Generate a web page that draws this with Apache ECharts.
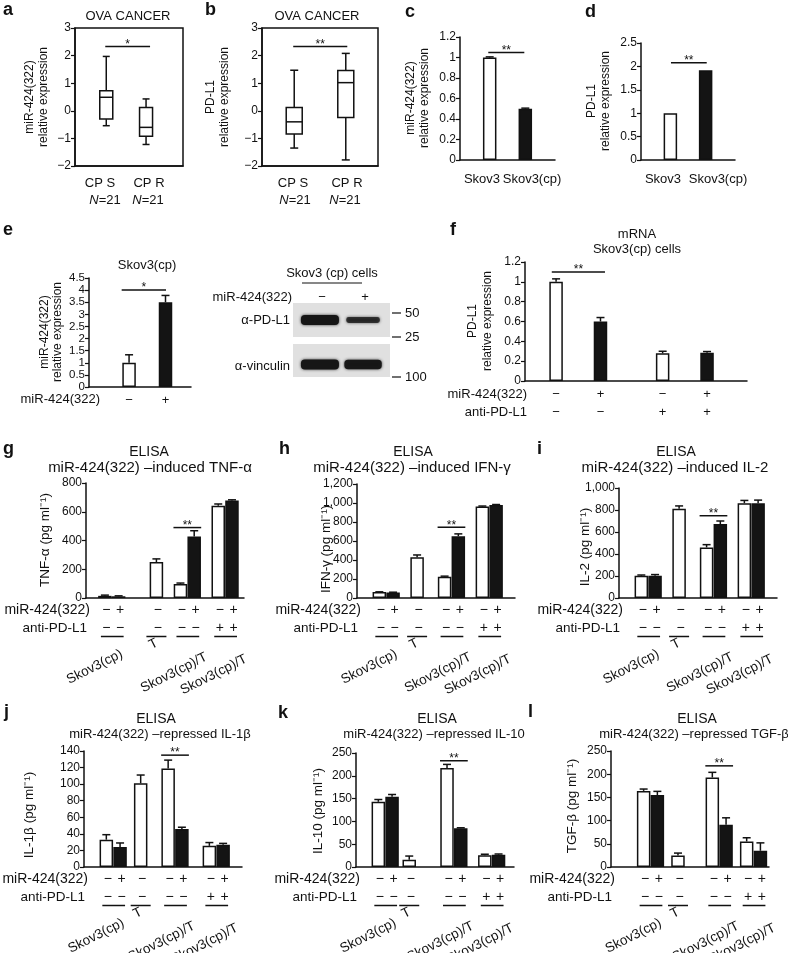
<!DOCTYPE html>
<html><head><meta charset="utf-8">
<script src="https://cdn.jsdelivr.net/npm/echarts@6.0.0/dist/echarts.min.js"></script>
<style>html,body{margin:0;padding:0;background:#fff}#c{width:788px;height:953px}</style>
</head><body><div id="c"></div>
<script>
// ================= DATA =================
// a, b: box plots  [min, Q1, median, Q3, max]
const boxCategories = ['CP S', 'CP R'];
const boxN = [21, 21];
const boxMiR = [[-0.54, -0.30, 0.49, 0.73, 1.97], [-1.22, -0.92, -0.60, 0.12, 0.43]];
const boxPDL1 = [[-1.35, -0.84, -0.40, 0.12, 1.47], [-1.78, -0.24, 1.02, 1.46, 2.08]];
const boxSig = [2.33, 2.33];

// c, d
const cellLines = ['Skov3', 'Skov3(cp)'];
const cValues = [1.0, 0.5];
const cErrors = [0.006, 0.006];
const dValues = [1.0, 1.92];
const cdSig = [1.05, 2.08];

// e
const eSigns = ['−', '+'];
const eValues = [1.0, 3.5];
const eErrors = [0.33, 0.28];
const eSig = 4.0;

// western blot (relative band intensity per lane)
const blotLanes = ['−', '+'];
const pdl1Band = [1.0, 0.45];
const vinculinBand = [1.0, 0.92];
const markerKDa = ['50', '25', '100'];

// f
const fMir = ['−', '+', '−', '+'];
const fAnti = ['−', '−', '+', '+'];
const fValues = [1.0, 0.6, 0.28, 0.285];
const fErrors = [0.03, 0.04, 0.02, 0.012];
const fSig = 1.1;

// g-l ELISA (7 bars: Skov3(cp) -/+, T, Skov3(cp)/T -/+, Skov3(cp)/T anti -/+)
const elisaGroups = ['Skov3(cp)', 'T', 'Skov3(cp)/T', 'Skov3(cp)/T'];
const elisaGroupOf = [0, 0, 1, 2, 2, 3, 3];
const elisaMir  = ['−', '+', '−', '−', '+', '−', '+'];
const elisaAnti = ['−', '−', '−', '−', '−', '+', '+'];
const tnfValues = [15, 12, 250, 98, 428, 642, 678];
const tnfErrors = [5, 3, 22, 6, 40, 12, 5];
const ifnValues = [62, 58, 428, 225, 650, 962, 978];
const ifnErrors = [3, 3, 25, 5, 25, 6, 6];
const il2Values = [203, 203, 812, 460, 672, 862, 862];
const il2Errors = [6, 10, 25, 25, 28, 25, 28];
const il1bValues = [33, 24, 101, 119, 46, 25.5, 27];
const il1bErrors = [6, 5, 10, 10, 2, 4, 1.5];
const il10Values = [143, 154, 16, 217, 85, 26, 27];
const il10Errors = [5, 5, 8, 8, 1, 2, 1.5];
const tgfValues = [164, 155, 25, 193, 91, 55, 35];
const tgfErrors = [4, 8, 5, 11, 15, 8, 17];
const elisaSig = [490, 745, 748, 135, 233, 218];

// ================= BUILD =================
const FONT = '"Liberation Sans", Arial, Helvetica, sans-serif';
const INK = '#111';
const grids = [], xAxes = [], yAxes = [], series = [], G = [];

function T(x, y, text, o) {
  o = o || {};
  const st = {text: text, fill: INK, font: (o.bold ? 'bold ' : '') + (o.size || 13) + 'px ' + FONT,
    align: o.align || 'center', verticalAlign: o.va || 'middle'};
  if (o.lh) st.lineHeight = o.lh;
  if (o.rich) st.rich = o.rich;
  G.push({type: 'text', x: x, y: y, rotation: o.rot || 0, silent: true, z: 10, style: st});
}
function L(x1, y1, x2, y2, w) {
  G.push({type: 'line', silent: true, z: 10, shape: {x1: x1, y1: y1, x2: x2, y2: y2}, style: {stroke: INK, lineWidth: w || 1.5}});
}
const numFmt = v => { const r = Math.round(v * 100) / 100; return (r < 0 ? '−' + Math.abs(r) : String(r)); };
const kFmt = v => Math.round(v).toLocaleString('en-US');

function addPanel(p) {
  const gi = grids.length;
  grids.push({left: p.left, top: p.top, width: p.width, height: p.height, show: !!(p.frame || p.bg),
    borderColor: INK, borderWidth: p.frame ? 1.5 : 0, backgroundColor: p.bg || 'transparent'});
  xAxes.push({gridIndex: gi, type: 'category', data: Array.from({length: p.slots}, (_, i) => 's' + i), boundaryGap: true,
    axisLine: {show: !p.hidden, onZero: false, lineStyle: {color: INK, width: 1.5}}, axisTick: {show: false},
    axisLabel: p.xLabels ? {show: true, interval: 0, margin: p.xMargin || 4, color: INK, fontFamily: FONT, fontSize: 13, lineHeight: 18,
      formatter: (v, i) => p.xLabels[i] || ''} : {show: false},
    splitLine: {show: false}});
  yAxes.push({gridIndex: gi, type: 'value', min: p.min, max: p.max, interval: p.interval,
    axisLine: {show: !p.hidden, lineStyle: {color: INK, width: 1.5}},
    axisTick: {show: !p.hidden, inside: false, length: 4, lineStyle: {color: INK, width: 1.2}},
    axisLabel: {show: !p.hidden, color: INK, fontFamily: FONT, fontSize: p.tickSize || 12, margin: 4, formatter: p.fmt || numFmt},
    splitLine: {show: false}});
  return gi;
}
function addBars(gi, slots, layout, vals, fills, bw) {
  const data = new Array(slots).fill('-');
  layout.forEach((s, k) => { data[s] = {value: vals[k], itemStyle: {color: fills[k], borderColor: INK, borderWidth: 1.5}}; });
  series.push({type: 'bar', xAxisIndex: gi, yAxisIndex: gi, data: data, barWidth: bw, silent: true, animation: false});
}
function addErr(gi, layout, vals, errs, capW) {
  series.push({type: 'custom', xAxisIndex: gi, yAxisIndex: gi, silent: true, animation: false, clip: false, z: 3,
    data: layout.map((s, k) => [s, vals[k], vals[k] + errs[k]]),
    renderItem: function (params, api) {
      const b = api.coord([api.value(0), api.value(1)]);
      const t = api.coord([api.value(0), api.value(2)]);
      const ls = {stroke: INK, lineWidth: 1.5};
      return {type: 'group', children: [
        {type: 'line', shape: {x1: b[0], y1: b[1], x2: t[0], y2: t[1]}, style: ls},
        {type: 'line', shape: {x1: t[0] - capW / 2, y1: t[1], x2: t[0] + capW / 2, y2: t[1]}, style: ls}]};
    }});
}
function addSig(gi, a, b, y, txt, padL, padR) {
  series.push({type: 'custom', xAxisIndex: gi, yAxisIndex: gi, silent: true, animation: false, clip: false, z: 3,
    data: [[a, b, y]],
    renderItem: function (params, api) {
      const p1 = api.coord([api.value(0), api.value(2)]);
      const p2 = api.coord([api.value(1), api.value(2)]);
      const x1 = p1[0] - padL, x2 = p2[0] + padR, yy = p1[1];
      return {type: 'group', children: [
        {type: 'line', shape: {x1: x1, y1: yy, x2: x2, y2: yy}, style: {stroke: INK, lineWidth: 1.5}},
        {type: 'text', style: {text: txt, x: (x1 + x2) / 2, y: yy + 4, align: 'center', verticalAlign: 'bottom', font: '12px ' + FONT, fill: INK}}]};
    }});
}
function addBoxes(gi, layout, boxes, bw, cw) {
  series.push({type: 'custom', xAxisIndex: gi, yAxisIndex: gi, silent: true, animation: false, clip: false, z: 3,
    data: layout.map((s, k) => [s].concat(boxes[k])),
    renderItem: function (params, api) {
      const x = api.coord([api.value(0), 0])[0];
      const Y = i => api.coord([api.value(0), api.value(i)])[1];
      const mn = Y(1), q1 = Y(2), md = Y(3), q3 = Y(4), mx = Y(5);
      const ls = {stroke: INK, lineWidth: 1.5};
      return {type: 'group', children: [
        {type: 'line', shape: {x1: x, y1: mx, x2: x, y2: q3}, style: ls},
        {type: 'line', shape: {x1: x, y1: q1, x2: x, y2: mn}, style: ls},
        {type: 'line', shape: {x1: x - cw / 2, y1: mx, x2: x + cw / 2, y2: mx}, style: ls},
        {type: 'line', shape: {x1: x - cw / 2, y1: mn, x2: x + cw / 2, y2: mn}, style: ls},
        {type: 'rect', shape: {x: x - bw / 2, y: q3, width: bw, height: q1 - q3}, style: {fill: '#fff', stroke: INK, lineWidth: 1.5}},
        {type: 'line', shape: {x1: x - bw / 2, y1: md, x2: x + bw / 2, y2: md}, style: ls}]};
    }});
}
function addBands(gi, layout, intens, yPos) {
  series.push({type: 'custom', xAxisIndex: gi, yAxisIndex: gi, silent: true, animation: false, clip: true, z: 3,
    data: layout.map((s, k) => [s, intens[k]]),
    renderItem: function (params, api) {
      const it = api.value(1);
      const c = api.coord([api.value(0), yPos]);
      const w = 30 + 8 * it, h = 3 + 7 * it;
      return {type: 'rect', shape: {x: c[0] - w / 2, y: c[1] - h / 2, width: w, height: h, r: h / 2.5},
        style: {fill: 'rgba(22,22,22,' + (0.6 + 0.4 * it) + ')', shadowBlur: 3, shadowColor: 'rgba(20,20,20,0.85)'}};
    }});
}
const fillOf = signs => signs.map(s => s === '+' ? '#141414' : '#ffffff');
const letter = (x, y, t) => T(x, y, t, {bold: true, size: 18, align: 'left'});
const yLabel = (x, y, t, lh, size) => T(x, y, t, {rot: Math.PI / 2, size: size || 12, lh: lh || 14});

// ----- a, b -----
function boxPanel(p) {
  const gi = addPanel({left: p.left, top: 28, width: p.width, height: 138, slots: p.slots, min: -2, max: 3, interval: 1, frame: true});
  addBoxes(gi, p.layout, p.data, p.bw, p.cw);
  addSig(gi, p.layout[0], p.layout[1], p.sig, p.star, p.padL, p.padR);
  T(p.titleX, 16, 'OVA CANCER');
  yLabel(p.ylx, 97, p.ylab);
  boxCategories.forEach((c, k) => {
    T(p.catX[k], 183, c);
    T(p.nX[k], 200, '{i|N}=' + boxN[k], {rich: {i: {font: 'italic 13px ' + FONT, fill: INK}}});
  });
}
letter(3, 10, 'a');
boxPanel({left: 75, width: 108, slots: 19, layout: [5, 12], data: boxMiR, bw: 13, cw: 7, sig: boxSig[0], star: '*', padL: 1, padR: 4,
  titleX: 128, ylx: 37, ylab: 'miR-424(322)\nrelative expression', catX: [100, 149], nX: [105, 148]});
letter(205, 10, 'b');
boxPanel({left: 262, width: 116, slots: 9, layout: [2, 6], data: boxPDL1, bw: 16, cw: 8, sig: boxSig[1], star: '**', padL: 1, padR: 1.5,
  titleX: 317, ylx: 218, ylab: 'PD-L1\nrelative expression', catX: [293, 347], nX: [295, 345]});

// ----- c, d -----
letter(405, 12, 'c');
{
  const gi = addPanel({left: 460, top: 37, width: 95, height: 123, slots: 8, min: 0, max: 1.2, interval: 0.2});
  addBars(gi, 8, [2, 5], cValues, ['#fff', '#141414'], 13.5);
  addErr(gi, [2, 5], cValues, cErrors, 8);
  addSig(gi, 2, 5, cdSig[0], '**', 1.4, -1);
  yLabel(417.5, 98, 'miR-424(322)\nrelative expression');
  T(482, 179, cellLines[0]); T(532, 179, cellLines[1]);
}
letter(585, 12, 'd');
{
  const gi = addPanel({left: 641, top: 43, width: 94, height: 117, slots: 8, min: 0, max: 2.5, interval: 0.5});
  addBars(gi, 8, [2, 5], dValues, ['#fff', '#141414'], 13.5);
  addSig(gi, 2, 5, cdSig[1], '**', -0.6, 1.1);
  yLabel(599, 101, 'PD-L1\nrelative expression');
  T(663, 179, cellLines[0]); T(718, 179, cellLines[1]);
}

// ----- e -----
letter(3, 230, 'e');
{
  const lay = [5, 10], labs = [];
  lay.forEach((s, k) => labs[s] = eSigns[k]);
  const gi = addPanel({left: 89, top: 278, width: 102, height: 109, slots: 14, min: 0, max: 4.5, interval: 0.5, tickSize: 11.5, xLabels: labs, xMargin: 4});
  addBars(gi, 14, lay, eValues, fillOf(eSigns), 13.5);
  addErr(gi, lay, eValues, eErrors, 8);
  addSig(gi, lay[0], lay[1], eSig, '*', 7.4, 0.5);
  T(147, 265, 'Skov3(cp)');
  yLabel(51.5, 332, 'miR-424(322)\nrelative expression', 13);
  T(100, 399, 'miR-424(322)', {align: 'right'});
}

// ----- western blot -----
{
  T(332, 273, 'Skov3 (cp) cells');
  L(302, 283, 362, 283, 1.2);
  T(292, 297, 'miR-424(322)', {align: 'right'});
  const lay = [2, 6];
  lay.forEach((s, k) => T([322, 365][k], 297, blotLanes[k]));
  const g1 = addPanel({left: 293, top: 303, width: 97, height: 34, slots: 9, min: 0, max: 1, interval: 1, hidden: true, bg: '#e0e0e0'});
  addBands(g1, lay, pdl1Band, 0.5);
  const g2 = addPanel({left: 293, top: 344, width: 97, height: 33, slots: 9, min: 0, max: 1, interval: 1, hidden: true, bg: '#e0e0e0'});
  addBands(g2, lay, vinculinBand, 0.38);
  T(290, 320, 'α-PD-L1', {align: 'right'});
  T(290, 366, 'α-vinculin', {align: 'right'});
  [313, 337, 377].forEach((y, k) => { L(392, y, 401, y, 1.2); T(405, y, markerKDa[k], {align: 'left'}); });
}

// ----- f -----
letter(450, 230, 'f');
{
  const lay = [3, 8, 15, 20], labs = [];
  lay.forEach((s, k) => labs[s] = fMir[k] + '\n' + fAnti[k]);
  const gi = addPanel({left: 525, top: 262, width: 222, height: 119, slots: 25, min: 0, max: 1.2, interval: 0.2, xLabels: labs, xMargin: 4});
  addBars(gi, 25, lay, fValues, fillOf(fMir), 13.5);
  addErr(gi, lay, fValues, fErrors, 8);
  addSig(gi, lay[0], lay[1], fSig, '**', 4.3, 4.5);
  T(637, 234, 'mRNA'); T(637, 249, 'Skov3(cp) cells');
  yLabel(480.5, 321, 'PD-L1\nrelative expression', 15);
  T(527, 394, 'miR-424(322)', {align: 'right'});
  T(527, 412, 'anti-PD-L1', {align: 'right'});
}

// ----- g-l ELISA -----
const EL_SLOTS = 46;
const elisaPanels = [];
function elisaPanel(p) {
  p.gi = addPanel({left: p.left, top: p.top, width: 158, height: p.height, slots: EL_SLOTS, min: 0, max: p.max, interval: p.interval, fmt: kFmt});
  addBars(p.gi, EL_SLOTS, p.layout, p.values, fillOf(elisaMir), 13.5);
  addErr(p.gi, p.layout, p.values, p.errors, 8);
  addSig(p.gi, p.layout[3], p.layout[4], p.sig, '**', 7, 7);
  letter(p.lx, p.ly, p.letter);
  T(p.ex, p.ty, 'ELISA', {size: p.ts});
  T(p.tx, p.ty + 15.5, p.title, {size: p.ss});
  yLabel(p.left + p.ylx, p.yly, p.ylab, 14, 13.5);
  elisaPanels.push(p);
}
// table under each ELISA panel: placed at the pixel centres of the bars (via the axis scale)
function elisaTables(chart) {
  elisaPanels.forEach(p => {
    const x0 = p.left, y0 = p.top + p.height;
    const cx = p.layout.map(s => chart.convertToPixel({xAxisIndex: p.gi, yAxisIndex: p.gi}, [s, 0])[0]);
    T(x0 + 4, y0 + 12.5, 'miR-424(322)', {align: 'right', size: 14});
    T(x0 + 1, y0 + 30, 'anti-PD-L1', {align: 'right', size: 13.5});
    cx.forEach((x, k) => { T(x + 1.5, y0 + 12.5, elisaMir[k], {size: 14}); T(x + 1.5, y0 + 30, elisaAnti[k], {size: 14}); });
    elisaGroups.forEach((g, gk) => {
      const xs = cx.filter((x, k) => elisaGroupOf[k] === gk);
      const single = xs.length === 1;
      const a = single ? xs[0] - 10 : xs[0] - 4, b = single ? xs[0] + 10 : xs[xs.length - 1] + 5;
      L(a, y0 + 38.5, b, y0 + 38.5, 1.5);
      if (single) {
        T((a + b) / 2 - 3, y0 + 46, g, {rot: 0.47, size: 13.5});
      } else {
        const off = [[-5, 49], null, [4, 52], [6, 54]][gk];
        T(b + off[0], y0 + off[1], g, {align: 'right', va: 'top', rot: 0.47, size: 13.5});
      }
    });
  });
}
elisaPanel({letter: 'g', lx: 3, ly: 449, left: 86, top: 483, height: 115, max: 800, interval: 200, values: tnfValues, errors: tnfErrors, sig: elisaSig[0],
  layout: [5, 9, 20, 27, 31, 38, 42], title: 'miR-424(322) –induced TNF-α', ylab: 'TNF-α (pg ml⁻¹)', ylx: -41, yly: 540, tx: 150, ex: 149, ty: 452, ts: 14, ss: 15});
elisaPanel({letter: 'h', lx: 279, ly: 449, left: 357, top: 484, height: 114, max: 1200, interval: 200, values: ifnValues, errors: ifnErrors, sig: elisaSig[1],
  layout: [6, 10, 17, 25, 29, 36, 40], title: 'miR-424(322) –induced IFN-γ', ylab: 'IFN-γ (pg ml⁻¹)', ylx: -31, yly: 549, tx: 412, ex: 413, ty: 452, ts: 14, ss: 15});
elisaPanel({letter: 'i', lx: 537, ly: 449, left: 619, top: 488, height: 110, max: 1000, interval: 200, values: il2Values, errors: il2Errors, sig: elisaSig[2],
  layout: [6, 10, 17, 25, 29, 36, 40], title: 'miR-424(322) –induced IL-2', ylab: 'IL-2 (pg ml⁻¹)', ylx: -34, yly: 547, tx: 675, ex: 676, ty: 452, ts: 14, ss: 15});
elisaPanel({letter: 'j', lx: 4, ly: 712, left: 84, top: 751, height: 116, max: 140, interval: 20, values: il1bValues, errors: il1bErrors, sig: elisaSig[3],
  layout: [6, 10, 16, 24, 28, 36, 40], title: 'miR-424(322) –repressed IL-1β', ylab: 'IL-1β (pg ml⁻¹)', ylx: -55, yly: 815, tx: 160, ex: 156, ty: 719, ts: 14, ss: 13});
elisaPanel({letter: 'k', lx: 278, ly: 713, left: 356, top: 753, height: 114, max: 250, interval: 50, values: il10Values, errors: il10Errors, sig: elisaSig[4],
  layout: [6, 10, 15, 26, 30, 37, 41], title: 'miR-424(322) –repressed IL-10', ylab: 'IL-10 (pg ml⁻¹)', ylx: -38, yly: 811, tx: 434, ex: 437, ty: 719, ts: 14, ss: 13});
elisaPanel({letter: 'l', lx: 528, ly: 712, left: 611, top: 751, height: 116, max: 250, interval: 50, values: tgfValues, errors: tgfErrors, sig: elisaSig[5],
  layout: [9, 13, 19, 29, 33, 39, 43], title: 'miR-424(322) –repressed TGF-β', ylab: 'TGF-β (pg ml⁻¹)', ylx: -39, yly: 806, tx: 694, ex: 697, ty: 719, ts: 14, ss: 13});

const chart = echarts.init(document.getElementById('c'), null, {renderer: 'canvas', width: 788, height: 953});
chart.setOption({animation: false, backgroundColor: '#fff', grid: grids, xAxis: xAxes, yAxis: yAxes, series: series});
elisaTables(chart);
chart.setOption({graphic: G});
</script></body></html>
